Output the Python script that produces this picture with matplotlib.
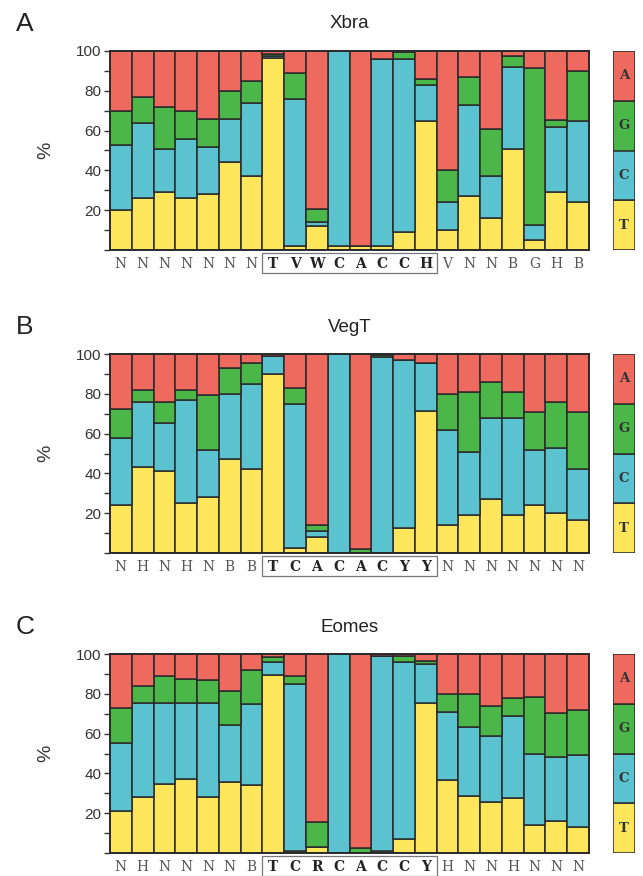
import matplotlib
matplotlib.use("Agg")
import matplotlib.pyplot as plt
import matplotlib.transforms as mtransforms
from matplotlib.patches import Rectangle
import numpy as np

# ---------------- data (percentages per position) ----------------
xbra_labels = ["N", "N", "N", "N", "N", "N", "N",
               "T", "V", "W", "C", "A", "C", "C", "H",
               "V", "N", "N", "B", "G", "H", "B"]
xbra_T = [20, 26, 29, 26, 28, 44, 37, 96.5, 2, 12, 2, 2, 2, 9, 65, 10, 27, 16, 51, 5, 29, 24]
xbra_C = [33, 38, 22, 30, 24, 22, 37, 1.2, 74, 2, 98, 0, 94, 87, 18, 14, 46, 21, 41, 7.6, 33, 41]
xbra_G = [17, 13, 21, 14, 14, 14, 11, 0.8, 13, 6.5, 0, 0, 0, 3.3, 3, 16, 14, 24, 5.5, 78.7, 3.5, 25]

vegt_labels = ["N", "H", "N", "H", "N", "B", "B",
               "T", "C", "A", "C", "A", "C", "Y", "Y",
               "N", "N", "N", "N", "N", "N", "N"]
vegt_T = [24, 43, 41, 25, 28, 47, 42, 90, 2.7, 8, 0, 0, 0, 12.6, 71.5, 14, 19, 27, 19, 24, 20, 16.5]
vegt_C = [34, 33, 24.5, 52, 24, 33, 43, 8.8, 72.3, 3, 100, 0, 98.5, 84.4, 24, 48, 32, 41, 49, 28, 33, 25.5]
vegt_G = [14.5, 6, 10.5, 5, 27.5, 13, 10.5, 0.2, 8, 3, 0, 2, 1, 0, 0, 18, 30, 18, 13, 19, 23, 29]

eomes_labels = ["N", "H", "N", "N", "N", "N", "B",
                "T", "C", "R", "C", "A", "C", "C", "Y",
                "H", "N", "N", "H", "N", "N", "N"]
eomes_T = [21, 28, 34.5, 37, 28, 35.5, 34, 89.5, 1, 3, 0, 0, 1, 7, 75.5, 36.5, 28.5, 25.5, 27.5, 14, 16, 13]
eomes_C = [34.5, 47.5, 41, 38.5, 47.5, 29, 41, 6.5, 84, 0, 100, 0, 98, 89, 19.5, 34.5, 35, 33.5, 41.5, 36, 32, 36]
eomes_G = [17.5, 8.5, 13.5, 12, 11.5, 17, 17, 2.7, 4, 12.5, 0, 2.5, 0, 3, 1.5, 9, 16.5, 15, 9, 28.5, 22.5, 23]

consensus_start = 7
consensus_end = 14

panels = [
    ("A", "Xbra", xbra_labels, xbra_T, xbra_C, xbra_G),
    ("B", "VegT", vegt_labels, vegt_T, vegt_C, vegt_G),
    ("C", "Eomes", eomes_labels, eomes_T, eomes_C, eomes_G),
]

# ---------------- style ----------------
COL_A = "#EF6A5E"
COL_G = "#4CB749"
COL_C = "#5BC3D0"
COL_T = "#FDE55C"
EDGE = "#2a2a2a"

W, H = 643, 876
fig = plt.figure(figsize=(W / 100, H / 100), dpi=100)
fig.patch.set_facecolor("white")

ax_left, ax_right = 110, 589
ax_tops = [51, 354, 654]
ax_h = 199
leg_left, leg_right = 613, 635

sans = ["Liberation Sans", "DejaVu Sans"]
serif = ["DejaVu Serif", "Liberation Serif"]

for (letter, title, labels, T, C, G), top in zip(panels, ax_tops):
    T = np.array(T, float)
    C = np.array(C, float)
    G = np.array(G, float)
    A = 100 - T - C - G
    x = np.arange(len(labels))

    ax = fig.add_axes([ax_left / W, 1 - (top + ax_h) / H,
                       (ax_right - ax_left) / W, ax_h / H])
    kw = dict(width=1.0, edgecolor=EDGE, linewidth=1.1)
    ax.bar(x, T, color=COL_T, **kw)
    ax.bar(x, C, bottom=T, color=COL_C, **kw)
    ax.bar(x, G, bottom=T + C, color=COL_G, **kw)
    ax.bar(x, A, bottom=T + C + G, color=COL_A, **kw)
    ax.set_xlim(-0.5, len(labels) - 0.5)
    ax.set_ylim(0, 100)
    for s in ax.spines.values():
        s.set_linewidth(1.4)
        s.set_color(EDGE)

    ax.set_yticks(np.arange(0, 101, 10))
    ax.set_yticklabels(["" if (v == 0 or v % 20) else str(v) for v in range(0, 101, 10)],
                       family=sans, fontsize=11, color="#333333")
    ax.tick_params(axis="y", direction="out", length=4, width=1.0, color="#333333", pad=2)
    ax.set_xticks([])

    trans = mtransforms.blended_transform_factory(ax.transData, ax.transAxes)
    for i, lab in enumerate(labels):
        is_cons = consensus_start <= i <= consensus_end
        ax.text(x[i], -0.068, lab, transform=trans, ha="center", va="center",
                family=serif, fontsize=10,
                fontweight="bold" if is_cons else "normal",
                color="#222222" if is_cons else "#555555")
    ax.add_patch(Rectangle((consensus_start - 0.5, -0.117),
                           consensus_end - consensus_start + 1, 0.102,
                           transform=trans, fill=False, edgecolor="#777777",
                           linewidth=0.9, clip_on=False))

    fig.text(46 / W, 1 - (top + ax_h / 2) / H, "%", rotation=90, ha="center",
             va="center", family=sans, fontsize=14, color="#333333")
    fig.text((ax_left + ax_right) / 2 / W, 1 - (top - 27) / H, title,
             ha="center", va="center", family=sans, fontsize=13.5, color="#222222")
    fig.text(25 / W, 1 - (top - 27) / H, letter, ha="center", va="center",
             family=sans, fontsize=19, color="#222222")

    # legend column
    lax = fig.add_axes([leg_left / W, 1 - (top + ax_h) / H,
                        (leg_right - leg_left) / W, ax_h / H])
    leg_names = ["T", "C", "G", "A"]
    leg_cols = [COL_T, COL_C, COL_G, COL_A]
    for k, (nm, cl) in enumerate(zip(leg_names, leg_cols)):
        lax.bar(0, 25, bottom=25 * k, width=1.0, color=cl, edgecolor=EDGE, linewidth=1.1)
        lax.text(0, 25 * k + 12.5, nm, ha="center", va="center", family=serif,
                 fontsize=9.5, fontweight="bold", color="#333333")
    lax.set_xlim(-0.5, 0.5)
    lax.set_ylim(0, 100)
    lax.axis("off")

fig.savefig("out.png", dpi=100, facecolor="white")
